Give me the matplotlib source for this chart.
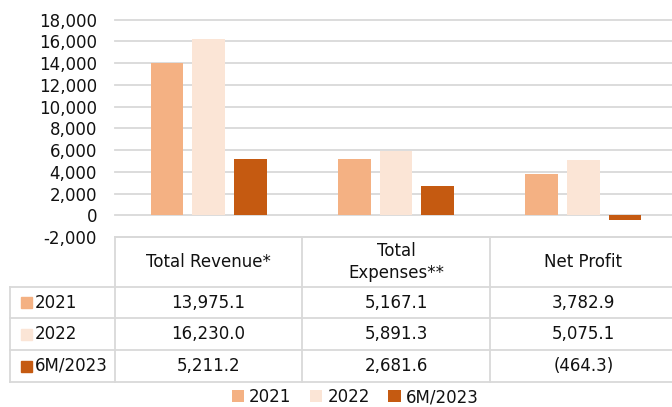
import matplotlib.pyplot as plt
from matplotlib.patches import Rectangle

categories = ['Total Revenue*', 'Total\nExpenses**', 'Net Profit']
series = ['2021', '2022', '6M/2023']
values = {
    '2021': [13975.1, 5167.1, 3782.9],
    '2022': [16230.0, 5891.3, 5075.1],
    '6M/2023': [5211.2, 2681.6, -464.3],
}
colors = {'2021': '#F4B183', '2022': '#FBE5D6', '6M/2023': '#C55A11'}
yticks = list(range(-2000, 18001, 2000))


def fmt(v):
    if v < 0:
        return f'({-v:,.1f})'
    return f'{v:,.1f}'


W, H = 672, 407
fig = plt.figure(figsize=(W / 100, H / 100), dpi=100)
fig.patch.set_facecolor('white')
grid_c = '#d9d9d9'
txt_c = '#111111'
fs = 12

# data table drawn in pixel coordinates
tab = fig.add_axes([0, 0, 1, 1])
tab.set_xlim(0, W)
tab.set_ylim(H, 0)
tab.axis('off')

col_x = [115, 302, 490, 677]
row_y = [237, 287, 318, 350, 382]
lw = 1.3
tab.plot([115, W], [row_y[0], row_y[0]], color=grid_c, lw=lw)
for y in row_y[1:]:
    tab.plot([10, W], [y, y], color=grid_c, lw=lw)
tab.plot([10, 10], [row_y[1], row_y[-1]], color=grid_c, lw=lw)
for x in col_x[:3]:
    tab.plot([x, x], [row_y[0], row_y[-1]], color=grid_c, lw=lw)

for i, cat in enumerate(categories):
    cx = (col_x[i] + col_x[i + 1]) / 2
    tab.text(cx, (row_y[0] + row_y[1]) / 2, cat, ha='center', va='center',
             fontsize=fs, color=txt_c, linespacing=1.3)

for r, s in enumerate(series):
    cy = (row_y[r + 1] + row_y[r + 2]) / 2
    tab.add_patch(Rectangle((21, cy - 5.5), 11, 11, color=colors[s]))
    tab.text(35, cy, s, ha='left', va='center', fontsize=fs, color=txt_c)
    for i, v in enumerate(values[s]):
        cx = (col_x[i] + col_x[i + 1]) / 2
        tab.text(cx, cy, fmt(v), ha='center', va='center', fontsize=fs, color=txt_c)

# bar chart
left = 115 / W
right = 677 / W
bottom = 1 - 237 / H
top = 1 - 19.7 / H
ax = fig.add_axes([left, bottom, right - left, top - bottom])
ax.patch.set_alpha(0)

x = range(len(categories))
width = 0.174
step = 0.223
handles = []
for k, s in enumerate(series):
    off = (k - 1) * step
    b = ax.bar([i + off for i in x], values[s], width, color=colors[s],
               zorder=3, label=s)
    handles.append(b)

ax.set_xlim(-0.5, 2.5)
ax.set_ylim(-2000, 18000)
ax.set_yticks(yticks)
ax.set_yticklabels([f'{t:,}' for t in yticks], fontsize=fs, color=txt_c)
ax.set_xticks([])
ax.tick_params(axis='y', length=0, pad=13)
ax.grid(axis='y', color=grid_c, lw=1.3, zorder=0)
for gl in ax.get_ygridlines():
    gl.set_clip_on(False)
for sp in ax.spines.values():
    sp.set_visible(False)

fig.legend(handles=handles, labels=series, loc='center', ncol=3,
           bbox_to_anchor=(355 / W, 1 - 397 / H), frameon=False,
           fontsize=fs, handlelength=0.75, handleheight=0.75,
           handletextpad=0.3, columnspacing=1.1, labelcolor=txt_c)

fig.savefig('out.png', dpi=100)
